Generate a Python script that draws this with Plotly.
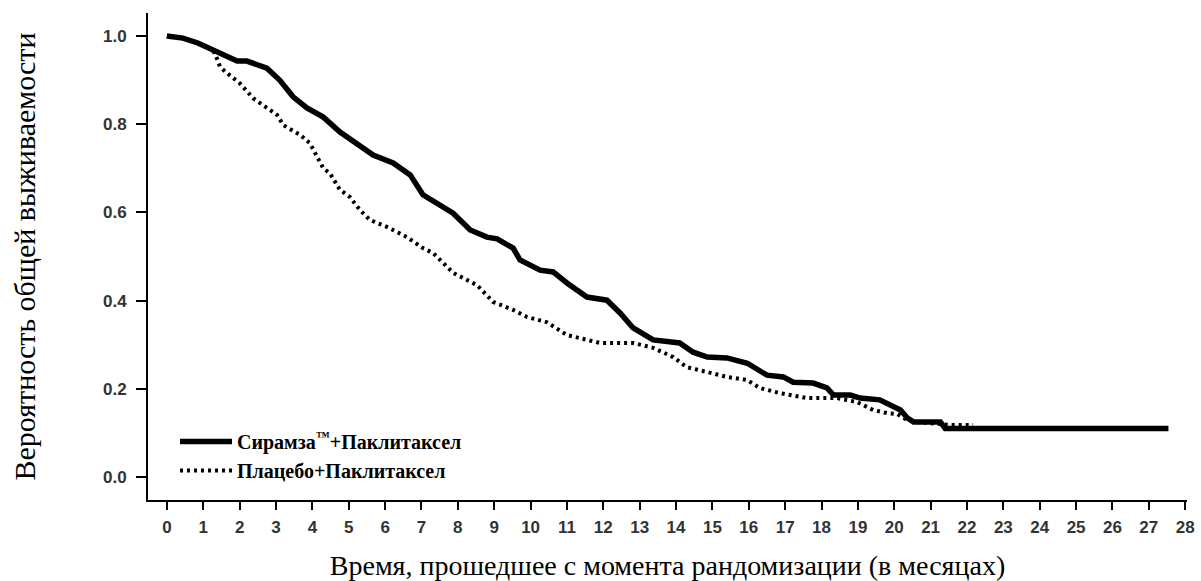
import plotly.graph_objects as go

# Сирамза + Паклитаксел (solid)
t_ram = [0, 0.44, 0.85, 1.37, 1.93, 2.2, 2.75, 3.1, 3.47, 3.85, 4.3, 4.76, 5.12, 5.67,
         6.22, 6.69, 7.04, 7.5, 7.87, 8.34, 8.8, 9.08, 9.52, 9.71, 10.26, 10.62, 11.0,
         11.55, 12.1, 12.46, 12.82, 13.37, 14.1, 14.47, 14.86, 15.4, 15.96, 16.5, 16.95,
         17.22, 17.77, 18.15, 18.33, 18.79, 19.06, 19.6, 19.9, 20.17, 20.36, 20.53,
         21.27, 21.4, 27.54]
s_ram = [1.0, 0.995, 0.984, 0.964, 0.943, 0.943, 0.927, 0.90, 0.862, 0.837, 0.816, 0.782,
         0.76, 0.73, 0.712, 0.685, 0.64, 0.617, 0.598, 0.56, 0.544, 0.54, 0.519, 0.492,
         0.469, 0.465, 0.44, 0.408, 0.401, 0.372, 0.338, 0.311, 0.304, 0.283, 0.272, 0.27,
         0.258, 0.231, 0.227, 0.215, 0.213, 0.202, 0.186, 0.186, 0.179, 0.175, 0.163,
         0.152, 0.134, 0.125, 0.125, 0.11, 0.11]

# Плацебо + Паклитаксел (dotted)
t_pla = [0, 0.44, 0.85, 1.2, 1.32, 1.46, 1.65, 2.0, 2.37, 2.75, 3.03, 3.2, 3.66, 3.93,
         4.12, 4.3, 4.48, 4.76, 5.03, 5.31, 5.58, 6.05, 6.6, 7.04, 7.32, 7.87, 8.53, 8.97,
         9.52, 9.9, 10.45, 11.0, 11.55, 11.91, 12.82, 13.37, 13.92, 14.3, 14.86, 15.4,
         15.96, 16.3, 16.86, 17.6, 18.43, 18.98, 19.42, 19.8, 20.08, 20.36, 20.63, 21.54,
         22.17]
s_pla = [1.0, 0.995, 0.984, 0.97, 0.961, 0.93, 0.916, 0.893, 0.859, 0.837, 0.821, 0.798,
         0.776, 0.757, 0.726, 0.70, 0.689, 0.651, 0.635, 0.605, 0.583, 0.567, 0.544, 0.519,
         0.508, 0.463, 0.435, 0.397, 0.379, 0.363, 0.351, 0.322, 0.311, 0.304, 0.304, 0.293,
         0.272, 0.249, 0.238, 0.227, 0.22, 0.202, 0.19, 0.179, 0.179, 0.17, 0.152, 0.145,
         0.143, 0.129, 0.125, 0.118, 0.118]

x_ticks = list(range(0, 29))
y_ticks = [0.0, 0.2, 0.4, 0.6, 0.8, 1.0]
y_tick_text = ["0.0", "0.2", "0.4", "0.6", "0.8", "1.0"]

name_ram = "Сирамза<sup>™</sup>+Паклитаксел"
name_pla = "Плацебо+Паклитаксел"
x_title = "Время, прошедшее с момента рандомизации (в месяцах)"
y_title = "Вероятность общей выживаемости"

fig = go.Figure()
fig.add_trace(go.Scatter(x=t_pla, y=s_pla, mode="lines", name=name_pla,
                         line=dict(color="black", width=4, dash="3px,4px")))
fig.add_trace(go.Scatter(x=t_ram, y=s_ram, mode="lines", name=name_ram,
                         line=dict(color="black", width=5.5)))

tick_font = dict(family="Liberation Sans, Arial", size=17, color="#333333")
serif = "Liberation Serif, Times New Roman, serif"

fig.update_layout(
    width=1201, height=581,
    margin=dict(l=148, r=14, t=13, b=81),
    paper_bgcolor="white", plot_bgcolor="white",
    showlegend=True,
    legend=dict(x=0.026, y=0.16, xanchor="left", yanchor="top",
                traceorder="reversed", bgcolor="rgba(0,0,0,0)", itemwidth=52,
                font=dict(family=serif, size=20, color="black", weight="bold")),
    xaxis=dict(range=[-0.52, 28.05], tickvals=x_ticks, showgrid=False, zeroline=False,
               automargin=False,
               showline=True, linecolor="black", linewidth=2,
               ticks="outside", ticklen=8, tickwidth=2, tickcolor="black",
               tickfont=dict(**tick_font, weight="bold"), ticklabelstandoff=3,
               title=dict(text=x_title, font=dict(family=serif, size=28, color="black"),
                          standoff=20)),
    yaxis=dict(range=[-0.052, 1.052], tickvals=y_ticks, ticktext=y_tick_text,
               showgrid=False, zeroline=False, automargin=False,
               showline=True, linecolor="black", linewidth=2,
               ticks="outside", ticklen=10, tickwidth=2, tickcolor="black",
               tickfont=dict(**tick_font, weight="bold"), ticklabelstandoff=6,
               title=dict(text=y_title, font=dict(family=serif, size=30, color="black"),
                          standoff=58)),
)

fig.write_html("out.html")
